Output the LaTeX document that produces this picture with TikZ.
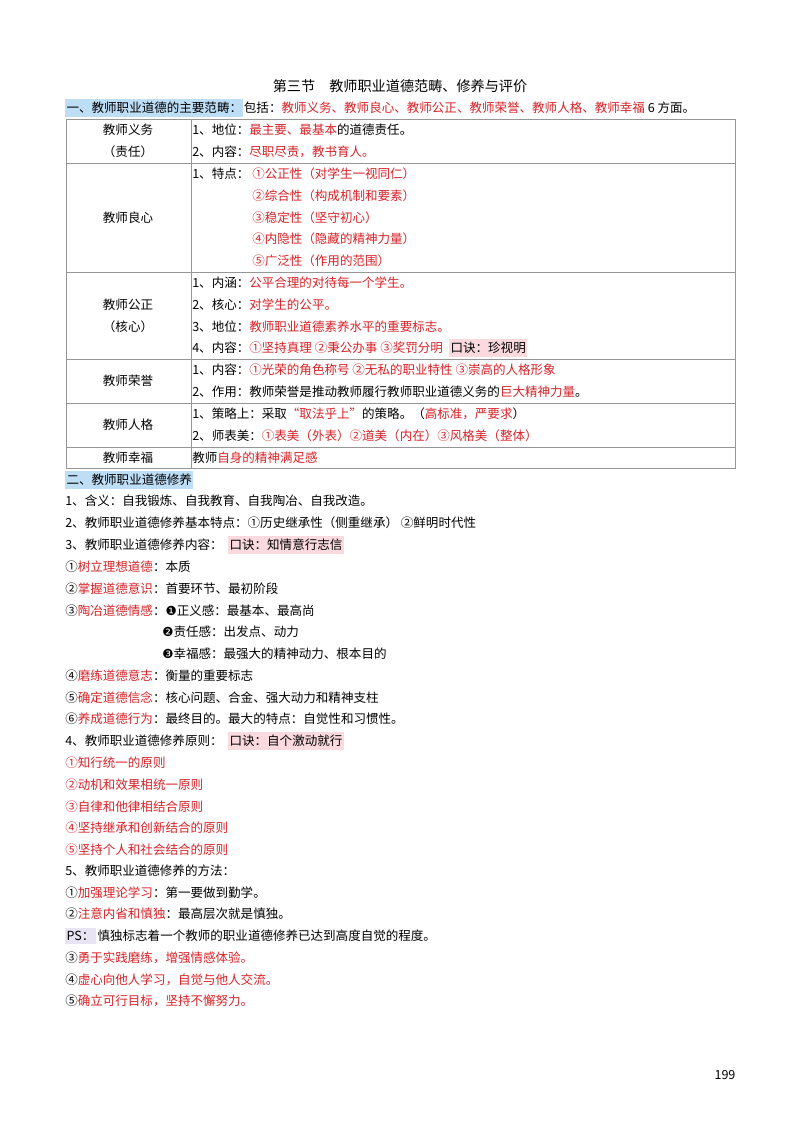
\documentclass[tikz,border=0pt]{standalone}
\usepackage{fontspec}
\setmainfont{Noto Sans CJK SC}
\newfontfamily\dvs{DejaVu Sans}
\usetikzlibrary{positioning}
\definecolor{kred}{RGB}{214,34,40}
\definecolor{kblue}{RGB}{190,222,246}
\definecolor{kpink}{RGB}{250,218,222}
\definecolor{klav}{RGB}{232,228,244}
\definecolor{kline}{RGB}{150,150,150}
\newcommand{\rd}[1]{\textcolor{kred}{#1}}
\newcommand{\bn}[1]{{\dvs #1}}
\tikzset{
  txt/.style={anchor=west, inner sep=0pt, font=\fontsize{9.4pt}{11pt}\selectfont},
  cell/.style={inner sep=0pt, font=\fontsize{9.4pt}{11pt}\selectfont},
  hl/.style={txt, inner xsep=1pt, inner ysep=2.5pt},
  grid/.style={draw=kline, line width=0.6pt}
}
\begin{document}
\begin{tikzpicture}[x=0.75pt, y=-0.75pt]
  \useasboundingbox (0,0) rectangle (800,1130);
  % Titolo
  \node[font=\fontsize{10.6pt}{12pt}\selectfont, inner sep=0pt] (title) at (400,86) {第三节\quad 教师职业道德范畴、修养与评价};
  % Sezione uno
  \node[hl, fill=kblue] (s1) at (65,108) {一、教师职业道德的主要范畴：};
  \node[txt, right=0pt of s1] (s1b) {包括：\rd{教师义务、教师良心、教师公正、教师荣誉、教师人格、教师幸福} 6 方面。};
  % Tabella
  \draw[grid] (66,119) rectangle (735,468);
  \draw[grid] (191,119) -- (191,468);
  \foreach \y in {163,272,359,403,447} \draw[grid] (66,\y) -- (735,\y);
  \node[cell] (c1a) at (128,130) {教师义务};
  \node[cell] (c1b) at (128,152) {（责任）};
  \node[cell] (c2) at (128,218) {教师良心};
  \node[cell] (c3a) at (128,305) {教师公正};
  \node[cell] (c3b) at (128,327) {（核心）};
  \node[cell] (c4) at (128,381) {教师荣誉};
  \node[cell] (c5) at (128,425) {教师人格};
  \node[cell] (c6) at (128,458) {教师幸福};
  % Contenuti
  \node[txt] (r1) at (192,130) {1、地位：\rd{最主要、最基本}的道德责任。};
  \node[txt] (r2) at (192,152) {2、内容：\rd{尽职尽责，教书育人。}};
  \node[txt] (r3) at (192,174) {1、特点：};
  \foreach \t [count=\i] in {①公正性（对学生一视同仁）,②综合性（构成机制和要素）,③稳定性（坚守初心）,④内隐性（隐藏的精神力量）,⑤广泛性（作用的范围）}
    \node[txt, text=kred] (k\i) at (252,152+\i*21.8) {\t};
  \node[txt] (r4) at (192,283) {1、内涵：\rd{公平合理的对待每一个学生。}};
  \node[txt] (r5) at (192,305) {2、核心：\rd{对学生的公平。}};
  \node[txt] (r6) at (192,327) {3、地位：\rd{教师职业道德素养水平的重要标志。}};
  \node[txt] (r7) at (192,348) {4、内容：\rd{①坚持真理 ②秉公办事 ③奖罚分明}};
  \node[hl, fill=kpink] (q1) at (449,348) {口诀：珍视明};
  \node[txt] (r8) at (192,370) {1、内容：\rd{①光荣的角色称号 ②无私的职业特性 ③崇高的人格形象}};
  \node[txt] (r9) at (192,392) {2、作用：教师荣誉是推动教师履行教师职业道德义务的\rd{巨大精神力量}。};
  \node[txt] (r10) at (192,414) {1、策略上：采取\rd{“取法乎上”}的策略。（\rd{高标准，严要求}）};
  \node[txt] (r11) at (192,436) {2、师表美：\rd{①表美（外表）②道美（内在）③风格美（整体）}};
  \node[txt] (r12) at (192,458) {教师\rd{自身的精神满足感}};
  % Sezione due
  \node[hl, fill=kblue] (s2) at (65,480) {二、教师职业道德修养};
  \node[txt] (m1) at (65,501) {1、含义：自我锻炼、自我教育、自我陶冶、自我改造。};
  \node[txt] (m2) at (65,523) {2、教师职业道德修养基本特点：①历史继承性（侧重继承） ②鲜明时代性};
  \node[txt] (m3) at (65,545) {3、教师职业道德修养内容：};
  \node[hl, fill=kpink] (q2) at (228,545) {口诀：知情意行志信};
  \node[txt] (m4) at (65,567) {①\rd{树立理想道德}：本质};
  \node[txt] (m5) at (65,589) {②\rd{掌握道德意识}：首要环节、最初阶段};
  \node[txt] (m6) at (65,611) {③\rd{陶冶道德情感}：\bn{❶}正义感：最基本、最高尚};
  \node[txt] (m7) at (162,632) {\bn{❷}责任感：出发点、动力};
  \node[txt] (m8) at (162,654) {\bn{❸}幸福感：最强大的精神动力、根本目的};
  \node[txt] (m9) at (65,676) {④\rd{磨练道德意志}：衡量的重要标志};
  \node[txt] (m10) at (65,698) {⑤\rd{确定道德信念}：核心问题、合金、强大动力和精神支柱};
  \node[txt] (m11) at (65,719) {⑥\rd{养成道德行为}：最终目的。最大的特点：自觉性和习惯性。};
  \node[txt] (m12) at (65,741) {4、教师职业道德修养原则：};
  \node[hl, fill=kpink] (q3) at (228,741) {口诀：自个激动就行};
  \foreach \t [count=\i] in {①知行统一的原则,②动机和效果相统一原则,③自律和他律相结合原则,④坚持继承和创新结合的原则,⑤坚持个人和社会结合的原则}
    \node[txt, text=kred] (p\i) at (65,741+\i*21.8) {\t};
  \node[txt] (m13) at (65,871) {5、教师职业道德修养的方法：};
  \node[txt] (m14) at (65,893) {①\rd{加强理论学习}：第一要做到勤学。};
  \node[txt] (m15) at (65,914) {②\rd{注意内省和慎独}：最高层次就是慎独。};
  \node[hl, fill=klav] (ps) at (65,936) {PS：};
  \node[txt, right=1pt of ps] (m16) {慎独标志着一个教师的职业道德修养已达到高度自觉的程度。};
  \node[txt] (m17) at (65,958) {③\rd{勇于实践磨练，增强情感体验。}};
  \node[txt] (m18) at (65,980) {④\rd{虚心向他人学习，自觉与他人交流。}};
  \node[txt] (m19) at (65,1001) {⑤\rd{确立可行目标，坚持不懈努力。}};
  % Numero di pagina
  \node[cell] (pg) at (725,1075) {199};
\end{tikzpicture}
\end{document}
